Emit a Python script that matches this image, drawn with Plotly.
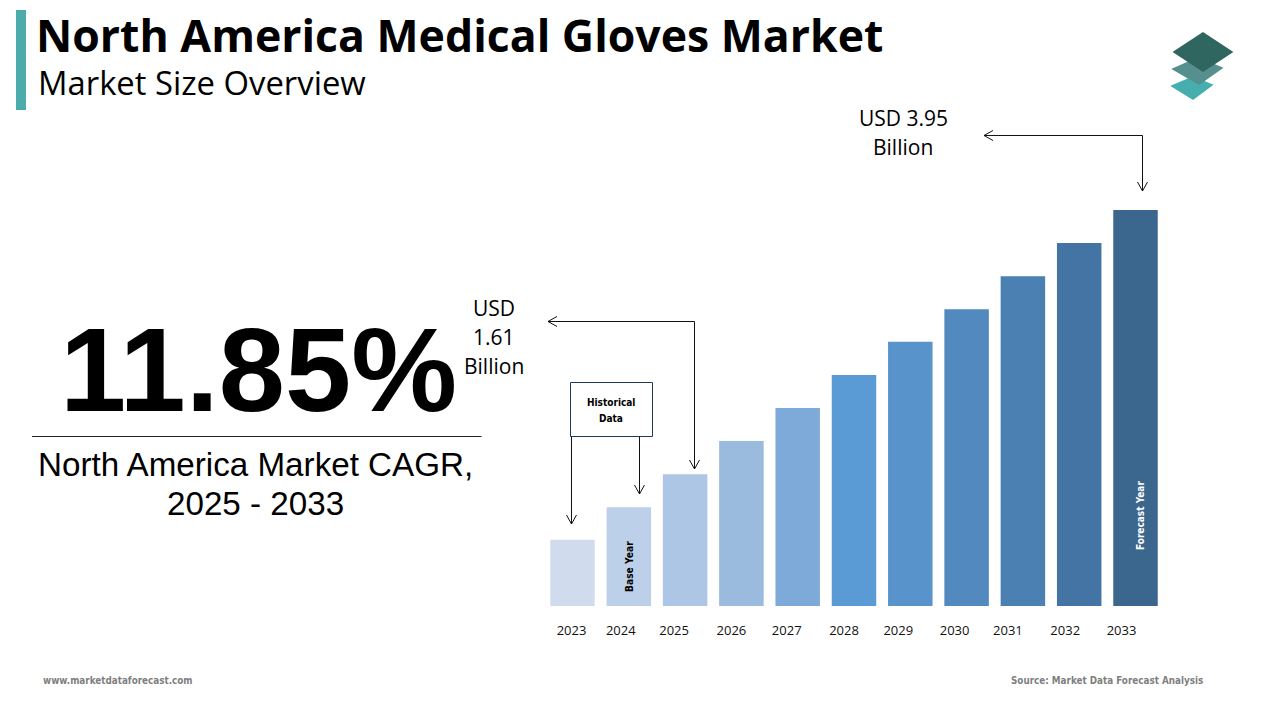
import plotly.graph_objects as go

years = [2023, 2024, 2025, 2026, 2027, 2028, 2029, 2030, 2031, 2032, 2033]
values = [0.66, 0.985, 1.315, 1.645, 1.975, 2.305, 2.635, 2.96, 3.29, 3.62, 3.95]
bar_colors = ["#d0dcee", "#bdd0e9", "#aec6e5", "#9abade", "#7eaad9", "#5b9bd5",
              "#5893cb", "#528ac0", "#4a80b2", "#4474a3", "#3b678f"]
tick_shift_px = [-1, -8, -11, -10, -11, -10, -12, -12, -15, -14, -14]

W, H = 1280, 720
PX_PER_YEAR = 56.3
X0 = 572.5
LEFT, RIGHT = 522, 1180
BASE, TOP = 606, 205
NARROW = "DejaVu Sans Condensed"
SANS = "Open Sans"
ARIAL = "Liberation Sans"


def px(x):
    return x / W


def py(y):
    return 1 - y / H


def path(points, close=False):
    d = "M " + " L ".join(f"{px(x):.5f},{py(y):.5f}" for x, y in points)
    return d + (" Z" if close else "")


shapes = []


def line(points, color="#111111", width=1):
    shapes.append(dict(type="path", xref="paper", yref="paper", path=path(points),
                       line=dict(color=color, width=width)))


def poly(points, color):
    shapes.append(dict(type="path", xref="paper", yref="paper", path=path(points, True),
                       fillcolor=color, line=dict(color=color, width=1.5)))


def rect(x0, y0, x1, y1, fill, border=None):
    shapes.append(dict(type="rect", xref="paper", yref="paper",
                       x0=px(x0), x1=px(x1), y0=py(y0), y1=py(y1), fillcolor=fill,
                       line=dict(color=border or fill, width=1 if border else 0)))


def head_down(x, y):
    line([(x - 5, y - 9), (x, y), (x + 5, y - 9)])


def head_left(x, y):
    line([(x + 9, y - 5), (x, y), (x + 9, y + 5)])


rect(16, 10, 26, 110, "#4bacab")
line([(32, 436.5), (481.5, 436.5)], "#222222", 1)

# connector arrows
line([(984, 135.5), (1142.5, 135.5), (1142.5, 191)])
head_left(984, 135.5)
head_down(1142.5, 191)
line([(548, 321.5), (694.5, 321.5), (694.5, 469)])
head_left(548, 321.5)
head_down(694.5, 469)
rect(570.5, 382.5, 652.5, 436.5, "#ffffff", "#1f3a5f")
line([(571.5, 436.5), (571.5, 524)])
head_down(571.5, 524)
line([(639.5, 436.5), (639.5, 494)])
head_down(639.5, 494)

# layered logo
poly([(1172, 86), (1193, 77), (1212, 85), (1193, 99)], "#46aeae")
poly([(1173, 69), (1198, 58), (1222, 68), (1199, 84)], "#55908f")
poly([(1174, 52), (1203, 33), (1232, 52), (1203, 71)], "#2f665f")

annotations = []


def text(x, y, s, size, family=SANS, color="#000000", anchor="center", bold=False, angle=0):
    annotations.append(dict(
        x=px(x), y=py(y), xref="paper", yref="paper", text=f"<b>{s}</b>" if bold else s,
        showarrow=False, xanchor=anchor, yanchor="middle", textangle=angle,
        font=dict(family=family, size=size, color=color)))


text(34, 34.5, "North America Medical Gloves Market", 44.6, bold=True, anchor="left")
text(35.5, 82.5, "Market Size Overview", 32.8, anchor="left")
text(258.5, 370, "11.85%", 119, ARIAL, bold=True)
text(255.5, 464, "North America Market CAGR,", 33.2, ARIAL)
text(255.5, 504, "2025 - 2033", 33.2, ARIAL)
text(903, 118, "USD 3.95", 21)
text(903, 147, "Billion", 21)
text(494, 308, "USD", 21)
text(494, 337, "1.61", 21)
text(494, 366, "Billion", 21)
text(611, 402, "Historical", 10, NARROW, bold=True)
text(611, 418, "Data", 10, NARROW, bold=True)
text(629, 567, "Base Year", 10.2, NARROW, bold=True, angle=-90)
text(1140, 516, "Forecast Year", 10, NARROW, "#ffffff", bold=True, angle=-90)
text(41, 680, "www.marketdataforecast.com", 9.8, NARROW, "#7f7f7f", "left", True)
text(1009, 680, "Source: Market Data Forecast Analysis", 9.8, NARROW, "#7f7f7f", "left", True)

fig = go.Figure(go.Bar(x=years, y=values, width=44.5 / PX_PER_YEAR,
                       marker=dict(color=bar_colors, line=dict(width=0)),
                       hoverinfo="x+y"))
fig.update_layout(
    width=W, height=H, margin=dict(l=0, r=0, t=0, b=0), autosize=False,
    paper_bgcolor="#ffffff", plot_bgcolor="rgba(0,0,0,0)", showlegend=False,
    shapes=shapes, annotations=annotations,
    xaxis=dict(
        domain=[px(LEFT), px(RIGHT)],
        range=[2023 + (LEFT - X0) / PX_PER_YEAR, 2023 + (RIGHT - X0) / PX_PER_YEAR],
        tickvals=[y + s / PX_PER_YEAR for y, s in zip(years, tick_shift_px)],
        ticktext=[str(y) for y in years],
        ticks="outside", ticklen=12, tickcolor="rgba(0,0,0,0)", showgrid=False,
        zeroline=False, showline=False, tickfont=dict(family=SANS, size=13, color="#111111"),
    ),
    yaxis=dict(
        domain=[py(BASE), py(TOP)], range=[0, (BASE - TOP) / (396 / 3.95)],
        visible=False, showgrid=False, zeroline=False,
    ),
)
fig.write_html("out.html", post_script="document.body.style.margin='0';", config={"displayModeBar": False})
